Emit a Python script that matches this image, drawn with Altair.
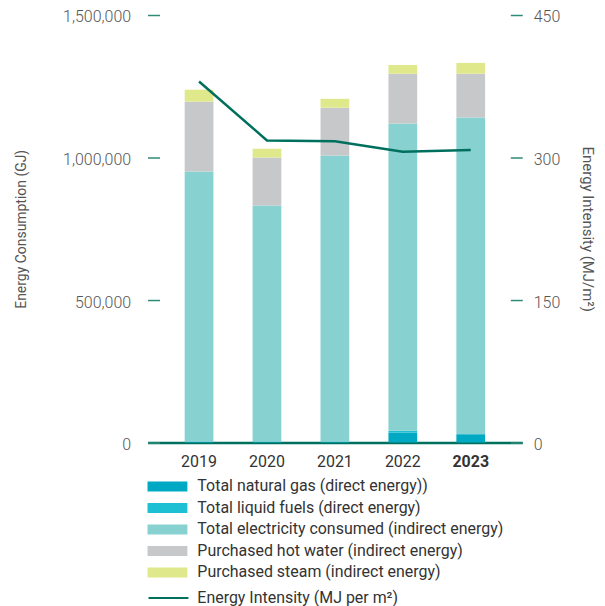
import altair as alt
import pandas as pd

years = ["2019", "2020", "2021", "2022", "2023"]
series = [
    "Total natural gas (direct energy))",
    "Total liquid fuels (direct energy)",
    "Total electricity consumed (indirect energy)",
    "Purchased hot water (indirect energy)",
    "Purchased steam (indirect energy)",
]
colors = ["#00A9C3", "#1DC0D3", "#87D1D1", "#C7C8CA", "#DFE98B"]

natural_gas = [3000, 3000, 3000, 35000, 29000]
liquid_fuels = [500, 500, 500, 6000, 1000]
electricity = [947500, 828500, 1003500, 1078000, 1110000]
hot_water = [245000, 168000, 168000, 175000, 154000]
steam = [42000, 31000, 31000, 31000, 38000]

intensity = [380, 318, 317, 306, 308]
line_label = "Energy Intensity (MJ per m\u00b2)"

values = [natural_gas, liquid_fuels, electricity, hot_water, steam]
rows = []
for si, (name, vals) in enumerate(zip(series, values)):
    for y, v in zip(years, vals):
        rows.append({"year": y, "series": name, "value": v, "order": si})
bars_df = pd.DataFrame(rows)
line_df = pd.DataFrame({"year": years, "intensity": intensity, "kind": [line_label] * len(years)})

FONT = "Roboto"
LABEL_COLOR = "#555555"
TEAL = "#00705E"
TICK = "#2E8B79"

x_enc = alt.X(
    "year:N",
    sort=years,
    title=None,
    scale=alt.Scale(paddingInner=0.577, paddingOuter=0.547),
    axis=alt.Axis(
        domain=True,
        domainColor=TEAL,
        domainWidth=2.5,
        ticks=False,
        labelAngle=0,
        labelFont=FONT,
        labelFontSize=16,
        labelColor="#333333",
        labelPadding=11,
        labelFontWeight={"condition": {"test": "datum.value == '2023'", "value": "bold"}, "value": "normal"},
    ),
)

bars = alt.Chart(bars_df).mark_bar().encode(
    x=x_enc,
    y=alt.Y(
        "value:Q",
        stack="zero",
        title="Energy Consumption (GJ)",
        scale=alt.Scale(domain=[0, 1500000], nice=False),
        axis=alt.Axis(
            orient="left",
            values=[0, 500000, 1000000, 1500000],
            format=",d",
            offset=-12,
            domain=False,
            grid=False,
            tickSize=12,
            tickWidth=1.5,
            tickColor=TICK,
            labelFont=FONT,
            labelFontSize=16,
            labelFontWeight=300,
            labelColor=LABEL_COLOR,
            labelPadding=17,
            labelOffset=2,
            titleFont=FONT,
            titleFontSize=14,
            titleFontWeight="normal",
            titleColor=LABEL_COLOR,
            titlePadding=34,
        ),
    ),
    color=alt.Color(
        "series:N",
        sort=series,
        scale=alt.Scale(domain=series, range=colors),
        legend=alt.Legend(
            title=None,
            orient="none",
            legendX=10,
            legendY=463,
            direction="vertical",
            symbolType="M-2,-0.5H2V0.5H-2Z",
            symbolSize=400,
            symbolStrokeWidth=0,
            labelFont=FONT,
            labelFontSize=16,
            labelColor="#333333",
            labelOffset=20,
            rowPadding=3.6,
            padding=0,
            labelLimit=400,
        ),
    ),
    order=alt.Order("order:Q"),
)

line = alt.Chart(line_df).mark_line(strokeWidth=2.5).encode(
    x=alt.X("year:N", sort=years),
    y=alt.Y(
        "intensity:Q",
        title="Energy Intensity (MJ/m\u00b2)",
        scale=alt.Scale(domain=[0, 450], nice=False),
        axis=alt.Axis(
            orient="right",
            values=[0, 150, 300, 450],
            offset=-12,
            domain=False,
            grid=False,
            tickSize=12,
            tickWidth=1.5,
            tickColor=TICK,
            labelFont=FONT,
            labelFontSize=16,
            labelFontWeight=300,
            labelColor=LABEL_COLOR,
            labelPadding=11,
            labelOffset=2,
            titleFont=FONT,
            titleFontSize=15,
            titleFontWeight="normal",
            titleColor=LABEL_COLOR,
            titlePadding=20,
        ),
    ),
    stroke=alt.Stroke(
        "kind:N",
        scale=alt.Scale(domain=[line_label], range=[TEAL]),
        legend=alt.Legend(
            title=None,
            orient="none",
            legendX=0,
            legendY=564,
            symbolType="stroke",
            symbolSize=1600,
            symbolStrokeWidth=2,
            symbolStrokeColor=TEAL,
            labelFont=FONT,
            labelFontSize=16,
            labelColor="#333333",
            labelOffset=8,
            padding=0,
            labelLimit=400,
        ),
    ),
)

chart = (
    alt.layer(bars, line)
    .resolve_scale(y="independent", color="independent")
    .properties(
        width=376,
        height=429,
        autosize=alt.AutoSizeParams(type="none"),
        padding={"left": 140, "top": 6, "right": 75, "bottom": 170},
    )
    .configure_view(stroke=None)
)

chart.save("out.html", embed_options={"renderer": "svg", "actions": False})
